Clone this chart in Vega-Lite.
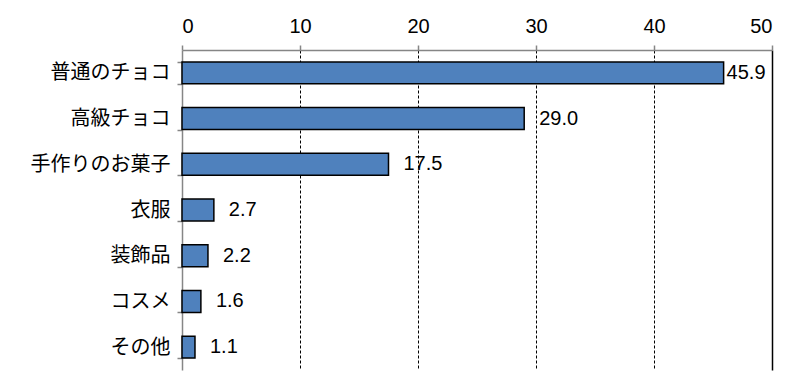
{
  "$schema": "https://vega.github.io/schema/vega-lite/v6.json",
  "width": 590,
  "height": 320,
  "autosize": "none",
  "padding": {"left": 182, "top": 50, "right": 33, "bottom": 4},
  "background": "white",
  "config": {
    "view": {"stroke": null},
    "font": "Liberation Sans, Noto Sans CJK JP",
    "text": {"font": "Liberation Sans, Noto Sans CJK JP"}
  },
  "data": {
    "values": [
      {"item": "普通のチョコ", "value": 45.9},
      {"item": "高級チョコ", "value": 29.0},
      {"item": "手作りのお菓子", "value": 17.5},
      {"item": "衣服", "value": 2.7},
      {"item": "装飾品", "value": 2.2},
      {"item": "コスメ", "value": 1.6},
      {"item": "その他", "value": 1.1}
    ]
  },
  "encoding": {
    "y": {
      "field": "item", "type": "nominal", "sort": null,
      "scale": {"paddingInner": 0.52, "paddingOuter": 0.26},
      "axis": {
        "title": null, "orient": "left",
        "domainColor": "#868686", "domainWidth": 1.5,
        "tickColor": "#868686", "tickWidth": 1.5, "tickSize": 5, "tickBand": "extent",
        "labelFont": "Noto Sans CJK JP", "labelFontSize": 20, "labelColor": "black",
        "labelPadding": 7
      }
    },
    "x": {
      "field": "value", "type": "quantitative",
      "scale": {"domain": [0, 50], "nice": false},
      "axis": {
        "title": null, "orient": "top", "values": [0, 10, 20, 30, 40, 50],
        "domainColor": "#868686", "domainWidth": 1.5,
        "tickColor": "#868686", "tickWidth": 1.5, "tickSize": 5,
        "labelFont": "Liberation Sans", "labelFontSize": 20, "labelColor": "black",
        "labelPadding": 9,
        "grid": true,
        "gridColor": {"condition": {"test": "datum.value === 0", "value": "transparent"}, "value": "black"},
        "gridDash": {"condition": {"test": "datum.value === 50", "value": []}, "value": [3, 2]},
        "gridWidth": {"condition": {"test": "datum.value === 50", "value": 1.5}, "value": 1}
      }
    }
  },
  "layer": [
    {
      "mark": {"type": "bar", "fill": "#4F81BD", "stroke": "black", "strokeWidth": 1.5}
    },
    {
      "transform": [{"filter": "datum.value < 40"}],
      "mark": {"type": "text", "align": "left", "baseline": "middle", "dx": 15, "fontSize": 20, "font": "Liberation Sans", "color": "black"},
      "encoding": {"text": {"field": "value", "type": "quantitative", "format": ".1f"}}
    },
    {
      "transform": [{"filter": "datum.value >= 40"}],
      "mark": {"type": "text", "align": "left", "baseline": "middle", "dx": 3, "fontSize": 20, "font": "Liberation Sans", "color": "black"},
      "encoding": {"text": {"field": "value", "type": "quantitative", "format": ".1f"}}
    }
  ]
}
